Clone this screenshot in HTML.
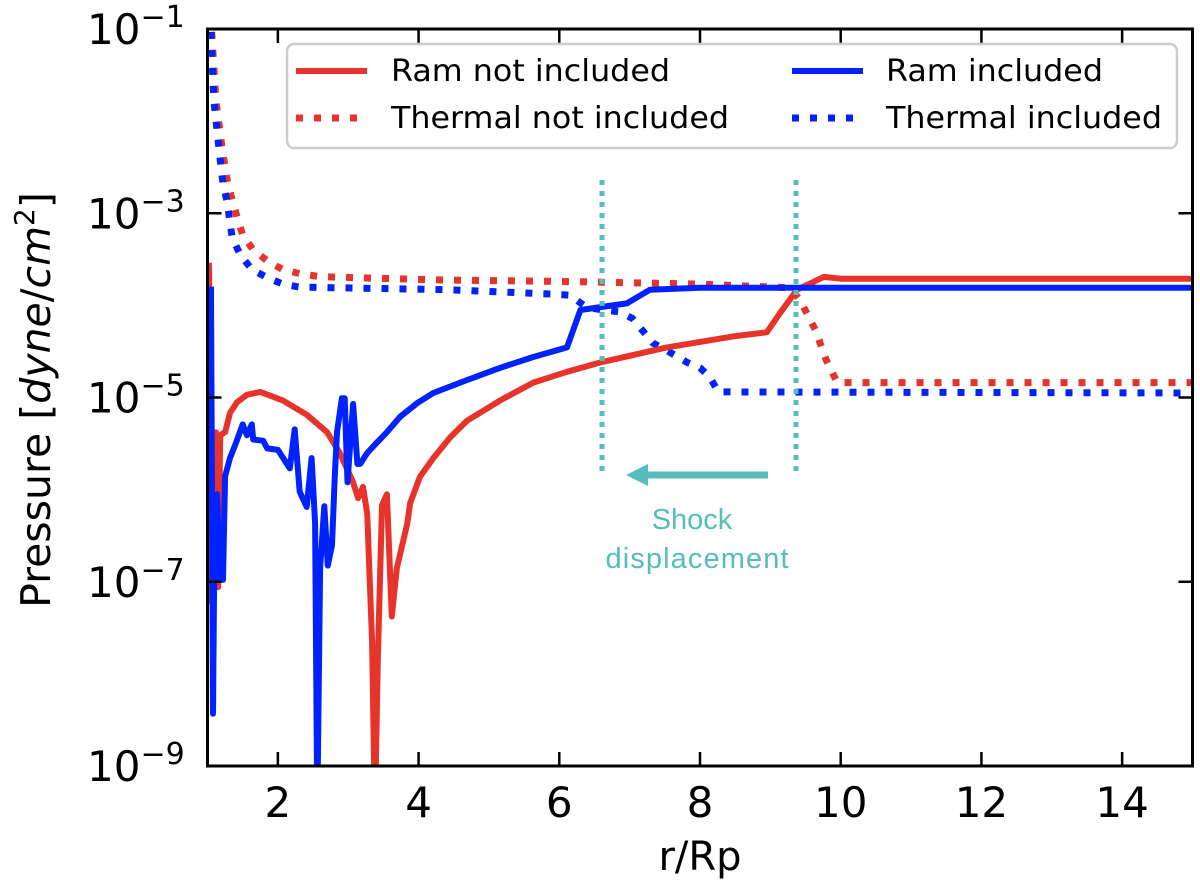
<!DOCTYPE html>
<html><head><meta charset="utf-8"><style>
html,body{margin:0;padding:0;background:#fff;}
svg{display:block;font-family:"DejaVu Sans","Liberation Sans",sans-serif;}
</style></head><body>
<svg id="chart" width="1200" height="894" viewBox="0 0 1200 894" xmlns="http://www.w3.org/2000/svg">
<defs><clipPath id="plotClip"><rect x="207.5" y="29" width="985" height="737"/></clipPath></defs>
<g id="series" clip-path="url(#plotClip)"></g>
<g id="annot">
  <line x1="602" y1="180" x2="602" y2="474" stroke="#56bcbc" stroke-width="5" stroke-dasharray="5 6"/>
  <line x1="796" y1="180" x2="796" y2="474" stroke="#56bcbc" stroke-width="5" stroke-dasharray="5 6"/>
  <line x1="768" y1="475" x2="645" y2="475" stroke="#56bcbc" stroke-width="7"/>
  <polygon points="626,475 648,464 648,486" fill="#56bcbc"/>
  <text x="692" y="529" font-size="29" fill="#56bcbc" text-anchor="middle" font-family="Liberation Sans, sans-serif">Shock</text>
  <text x="697" y="568" font-size="29" fill="#56bcbc" text-anchor="middle" font-family="Liberation Sans, sans-serif" textLength="183">displacement</text>
</g>
<rect x="207.5" y="29" width="985" height="737" fill="none" stroke="#000" stroke-width="3"/>
<g id="axes"></g>
<g>
  <rect x="287" y="44" width="890" height="104" rx="7" fill="#fff" fill-opacity="0.85" stroke="#cccccc" stroke-width="2.5"/>
  <line x1="296" y1="71" x2="367" y2="71" stroke="#e8332a" stroke-width="6"/>
  <text x="391" y="81" font-size="30" textLength="279" lengthAdjust="spacingAndGlyphs">Ram not included</text>
  <line x1="296" y1="118" x2="367" y2="118" stroke="#e8332a" stroke-width="7" stroke-dasharray="7 11"/>
  <text x="391" y="128" font-size="30" textLength="338" lengthAdjust="spacingAndGlyphs">Thermal not included</text>
  <line x1="792" y1="71" x2="863" y2="71" stroke="#0022ff" stroke-width="6"/>
  <text x="886" y="81" font-size="30" textLength="217" lengthAdjust="spacingAndGlyphs">Ram included</text>
  <line x1="792" y1="118" x2="863" y2="118" stroke="#0022ff" stroke-width="7" stroke-dasharray="7 11"/>
  <text x="886" y="128" font-size="30" textLength="276" lengthAdjust="spacingAndGlyphs">Thermal included</text>
</g>
<text x="700" y="870" font-size="40" text-anchor="middle">r/Rp</text>
<text transform="translate(50,400) rotate(-90)" font-size="41" text-anchor="middle">Pressure [<tspan font-style="italic">dyne</tspan>/<tspan font-style="italic">cm</tspan><tspan font-size="28" dy="-16">2</tspan><tspan dy="16">]</tspan></text>
</svg>
<script>
const xTicks = [2, 4, 6, 8, 10, 12, 14];
const yTickExps = [-1, -3, -5, -7, -9];

const ramNotX = [1.02,1.04,1.06,1.09,1.12,1.15,1.18,1.25,1.32,1.42,1.56,1.75,2.07,2.41,2.70,2.88,3.07,3.14,3.21,3.27,3.34,3.38,3.42,3.48,3.55,3.62,3.69,3.84,3.88,4.02,4.21,4.45,4.69,5.16,5.63,6.11,6.58,7.53,8.47,8.95,9.14,9.38,9.76,10.0,15];
const ramNotP = [2.9e-4,3.2e-5,6.0e-8,4.0e-6,4.2e-6,8.7e-8,3.9e-6,4.2e-6,6.8e-6,8.9e-6,1.07e-5,1.15e-5,9.3e-6,6.5e-6,4.2e-6,2.5e-6,1.2e-6,8.1e-7,1.07e-6,5.5e-7,2.2e-8,3e-10,1.4e-8,6.8e-7,8.9e-7,4.2e-8,1.4e-7,4.3e-7,7.1e-7,1.38e-6,2.2e-6,3.7e-6,5.6e-6,9.3e-6,1.45e-5,1.9e-5,2.4e-5,3.5e-5,4.6e-5,5.1e-5,8.3e-5,1.48e-4,2.04e-4,1.95e-4,1.95e-4];

const thermNotX = [1.06,1.12,1.21,1.28,1.35,1.42,1.5,1.65,1.86,2.07,2.32,2.6,4.4,6.0,8.0,9.28,9.42,9.64,9.79,9.95,15];
const thermNotP = [9.3e-2,1.7e-2,4.9e-3,2.3e-3,1.4e-3,9.1e-4,5.8e-4,4.0e-4,3.0e-4,2.45e-4,2.2e-4,2.05e-4,1.88e-4,1.82e-4,1.7e-4,1.55e-4,1.15e-4,5.4e-5,2.6e-5,1.45e-5,1.45e-5];

const ramIncX = [1.05,1.078,1.10,1.135,1.178,1.22,1.25,1.32,1.39,1.46,1.50,1.56,1.63,1.65,1.79,1.85,2.00,2.17,2.24,2.31,2.41,2.48,2.53,2.56,2.60,2.66,2.71,2.77,2.81,2.84,2.91,2.95,2.99,3.07,3.13,3.17,3.27,3.40,3.55,3.74,3.98,4.21,4.69,5.16,5.63,6.11,6.30,6.96,7.29,8.0,15];
const ramIncP = [1.6e-4,3.7e-9,3.2e-7,8.9e-7,1.05e-7,1.05e-7,1.4e-6,2.2e-6,3.0e-6,4.2e-6,5.1e-6,3.9e-6,5.1e-6,3.5e-6,3.4e-6,2.8e-6,2.7e-6,1.7e-6,4.5e-6,9.5e-7,6.5e-7,2.2e-6,4.3e-7,3e-10,1.4e-7,6.6e-7,1.5e-7,2.5e-7,1.4e-6,4.2e-6,9.8e-6,9.8e-6,1.2e-6,8.5e-6,1.9e-6,1.9e-6,2.5e-6,3.2e-6,4.2e-6,6.2e-6,8.7e-6,1.12e-5,1.55e-5,2.1e-5,2.75e-5,3.5e-5,8.9e-5,1.05e-4,1.48e-4,1.55e-4,1.55e-4];

const thermIncX = [1.05,1.09,1.18,1.22,1.28,1.35,1.46,1.63,1.85,2.07,2.31,4.40,5.97,6.15,6.39,6.62,6.86,7.04,7.33,7.57,7.82,8.0,8.14,8.26,15];
const thermIncP = [9.3e-2,1.7e-2,3.8e-3,2.1e-3,1.32e-3,5.5e-4,3.6e-4,2.45e-4,2.0e-4,1.7e-4,1.58e-4,1.48e-4,1.32e-4,1.29e-4,9.5e-5,8.9e-5,8.5e-5,7.2e-5,3.9e-5,3.1e-5,2.4e-5,2.1e-5,1.66e-5,1.15e-5,1.12e-5];

const NS = "http://www.w3.org/2000/svg";
const X0 = 207.5, X1 = 1192.5, Y0 = 29, Y1 = 766;
function xs(v){ return X0 + (v - 1) / (15 - 1) * (X1 - X0); }
function ys(p){ const l = Math.log10(p); return Y0 + (-1 - l) / 8 * (Y1 - Y0); }

const seriesG = document.getElementById('series');
function drawLine(xa, pa, color, dotted, name){
  const path = document.createElementNS(NS, 'path');
  let d = '';
  for (let i = 0; i < xa.length; i++) d += (i ? 'L' : 'M') + xs(xa[i]).toFixed(1) + ',' + ys(pa[i]).toFixed(1);
  path.setAttribute('d', d);
  path.setAttribute('fill', 'none');
  path.setAttribute('stroke', color);
  path.setAttribute('stroke-linejoin', 'round');
  if (dotted) { path.setAttribute('stroke-width', '7'); path.setAttribute('stroke-dasharray', '7 11'); }
  else path.setAttribute('stroke-width', '6');
  
  
  seriesG.appendChild(path);
}
drawLine(thermNotX, thermNotP, '#e8332a', true, 'thermal-not-included-line');
drawLine(thermIncX, thermIncP, '#0022ff', true, 'thermal-included-line');
drawLine(ramNotX, ramNotP, '#e8332a', false, 'ram-not-included-line');
drawLine(ramIncX, ramIncP, '#0022ff', false, 'ram-included-line');

const axesG = document.getElementById('axes');
xTicks.forEach(function(t){
  const x = xs(t);
  [[Y1, Y1 - 14], [Y0, Y0 + 14]].forEach(function(seg){
    const ln = document.createElementNS(NS, 'line');
    ln.setAttribute('x1', x); ln.setAttribute('x2', x);
    ln.setAttribute('y1', seg[0]); ln.setAttribute('y2', seg[1]);
    ln.setAttribute('stroke', '#000'); ln.setAttribute('stroke-width', '2.5');
    
    
    axesG.appendChild(ln);
  });
  const tx = document.createElementNS(NS, 'text');
  tx.setAttribute('x', x); tx.setAttribute('y', 817);
  tx.setAttribute('font-size', '42'); tx.setAttribute('text-anchor', 'middle');
  tx.textContent = String(t);
  
  
  axesG.appendChild(tx);
});
yTickExps.forEach(function(e){
  const y = ys(Math.pow(10, e));
  [[X0, X0 + 14], [X1, X1 - 14]].forEach(function(seg){
    const ln = document.createElementNS(NS, 'line');
    ln.setAttribute('x1', seg[0]); ln.setAttribute('x2', seg[1]);
    ln.setAttribute('y1', y); ln.setAttribute('y2', y);
    ln.setAttribute('stroke', '#000'); ln.setAttribute('stroke-width', '2.5');
    
    
    axesG.appendChild(ln);
  });
  const tx = document.createElementNS(NS, 'text');
  tx.setAttribute('x', 87); tx.setAttribute('y', y + 15);
  tx.setAttribute('font-size', '42');
  
  
  const base = document.createElementNS(NS, 'tspan');
  base.textContent = '10';
  const sup = document.createElementNS(NS, 'tspan');
  sup.setAttribute('font-size', '30'); sup.setAttribute('dy', '-17');
  sup.textContent = '\u2212' + Math.abs(e);
  tx.appendChild(base); tx.appendChild(sup);
  axesG.appendChild(tx);
});
</script>
</body></html>
